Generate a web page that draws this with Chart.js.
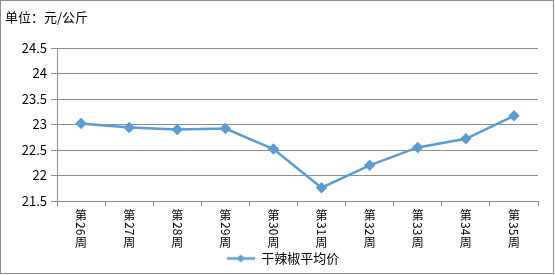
<!DOCTYPE html>
<html><head><meta charset="utf-8">
<script src="https://cdn.jsdelivr.net/npm/chart.js@4/dist/chart.umd.min.js"></script>
<style>html,body{margin:0;padding:0;background:#fff;}canvas{display:block;}</style>
</head><body>
<canvas id="c" width="555" height="275"></canvas>
<script>
const categories = ['第26周','第27周','第28周','第29周','第30周','第31周','第32周','第33周','第34周','第35周'];
const seriesName = '干辣椒平均价';
const values = [23.02, 22.94, 22.90, 22.92, 22.52, 21.76, 22.20, 22.55, 22.72, 23.17];
const yTicks = [21.5, 22, 22.5, 23, 23.5, 24, 24.5];
const unitTitle = '单位：元/公斤';

const FONT = '"Noto Sans CJK SC", "DejaVu Sans", sans-serif';
const BLUE = '#5B9BD5';

// legend marker image: line with diamond
const mk = document.createElement('canvas');
mk.width = 28; mk.height = 10;
(function(){
  const g = mk.getContext('2d');
  g.strokeStyle = BLUE; g.lineWidth = 2.5;
  g.beginPath(); g.moveTo(0,5); g.lineTo(28,5); g.stroke();
  g.fillStyle = BLUE;
  g.beginPath(); g.moveTo(14,1); g.lineTo(18,5); g.lineTo(14,9); g.lineTo(10,5); g.closePath(); g.fill();
})();

const deco = {
  id: 'deco',
  afterLayout(chart) {
    if (chart.legend) { chart.legend.left += 28; }
  },
  afterDraw(chart) {
    const ctx = chart.ctx;
    ctx.save();
    ctx.strokeStyle = '#8c8c8c'; ctx.lineWidth = 1;
    ctx.strokeRect(0.5, 0.5, 553, 273);
    ctx.fillStyle = '#000';
    ctx.font = '13px ' + FONT;
    ctx.textBaseline = 'middle'; ctx.textAlign = 'left';
    ctx.fillText(unitTitle, 5, 17);
    // vertical x labels
    const xs = chart.scales.x;
    ctx.font = '12px ' + FONT;
    categories.forEach((lab, i) => {
      const x = xs.getPixelForTick(i);
      const m = lab.match(/^(\D*)(\d+)(\D*)$/);
      let y = 209;
      ctx.textAlign = 'center'; ctx.textBaseline = 'top';
      ctx.fillText(m[1], x, y);
      y += 13;
      ctx.save();
      ctx.translate(x, y);
      ctx.rotate(Math.PI/2);
      ctx.textAlign = 'left'; ctx.textBaseline = 'middle';
      ctx.fillText(m[2], 0, 0);
      const w = ctx.measureText(m[2]).width;
      ctx.restore();
      y += w + 1;
      ctx.textAlign = 'center'; ctx.textBaseline = 'top';
      ctx.fillText(m[3], x, y);
    });
    ctx.restore();
  }
};

new Chart(document.getElementById('c'), {
  type: 'line',
  data: {
    labels: categories,
    datasets: [{
      label: seriesName,
      data: values,
      borderColor: BLUE,
      backgroundColor: BLUE,
      borderWidth: 2.5,
      pointStyle: 'rectRot',
      pointRadius: 4,
      pointBackgroundColor: BLUE,
      pointBorderColor: BLUE,
      tension: 0
    }]
  },
  options: {
    responsive: false,
    animation: false,
    devicePixelRatio: 1,
    layout: { padding: { left: 0, right: 17, top: 48, bottom: 0 } },
    plugins: {
      title: { display: false },
      tooltip: { enabled: false },
      legend: {
        position: 'bottom',
        labels: {
          usePointStyle: true,
          pointStyle: mk,
          pointStyleWidth: 28,
          boxHeight: 10,
          color: '#000',
          padding: 3,
          font: { family: FONT, size: 13 },
          generateLabels(chart) {
            return [{ text: seriesName, pointStyle: mk, fillStyle: BLUE, strokeStyle: BLUE, lineWidth: 0, datasetIndex: 0, fontColor: '#000' }];
          }
        }
      }
    },
    scales: {
      x: {
        offset: true,
        grid: { display: true, drawOnChartArea: false, drawTicks: true, tickLength: 5, offset: true, color: '#8c8c8c' },
        border: { color: '#8c8c8c' },
        ticks: { display: false },
        afterFit(s) { s.height = 48; }
      },
      y: {
        min: 21.5, max: 24.5,
        afterBuildTicks(s) { s.ticks = yTicks.map(v => ({ value: v })); },
        grid: { color: '#8c8c8c', tickLength: 6, drawTicks: true },
        border: { color: '#8c8c8c' },
        ticks: {
          color: '#000',
          padding: 4,
          font: { family: FONT, size: 13 },
          callback: v => String(v)
        },
        afterFit(s) { s.width = 57; }
      }
    }
  },
  plugins: [deco]
});
</script>
</body></html>
